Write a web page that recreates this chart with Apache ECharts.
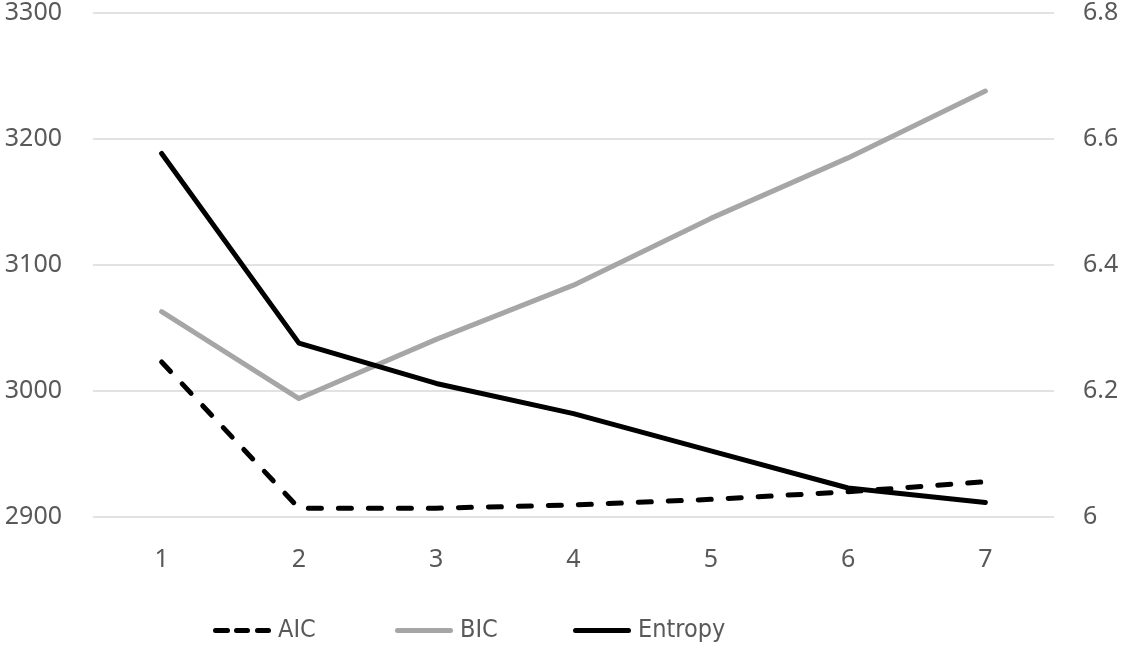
<!DOCTYPE html>
<html><head><meta charset="utf-8">
<script src="https://cdn.jsdelivr.net/npm/echarts@6/dist/echarts.min.js"></script>
<style>html,body{margin:0;padding:0;background:#fff}#c{width:1122px;height:646px}</style>
</head><body><div id="c"></div>
<script>
const categories = ['1','2','3','4','5','6','7'];
const aic = [3023, 2907, 2907, 2909.5, 2914, 2920, 2928];
const bic = [3063, 2994, 3041, 3084, 3137, 3185, 3238];
const entropy = [6.577, 6.276, 6.212, 6.164, 6.105, 6.046, 6.023];
const leftTicks = [2900, 3300, 100];
const rightTicks = [6, 6.8, 0.2];
const seriesNames = ['AIC', 'BIC', 'Entropy'];

const font = '"Noto Sans", sans-serif';
const narrow = '"Liberation Sans Narrow", "DejaVu Sans Condensed", "Roboto Condensed", Roboto, sans-serif';
function seg(a, b) {
  return 'M' + (a + 2.5) + ' 0 H' + (b - 2.5) + ' A2.5 2.5 0 0 1 ' + (b - 2.5) + ' 5 H' + (a + 2.5) + ' A2.5 2.5 0 0 1 ' + (a + 2.5) + ' 0 Z ';
}
const dashIcon = 'path://' + seg(0, 17) + seg(21, 37) + seg(42, 58);
const solidIcon = 'path://' + seg(0, 58);
const legendLefts = [213, 395, 573];
const legendIcons = [dashIcon, solidIcon, solidIcon];

const chart = echarts.init(document.getElementById('c'), null, {renderer:'canvas'});
chart.setOption({
  animation: false,
  textStyle: {fontFamily: font},
  grid: {left: 93, right: 68, top: 13, bottom: 129, containLabel: false},
  legend: seriesNames.map((n, i) => ({
    top: 618, left: legendLefts[i], padding: 0, itemWidth: 58, itemHeight: 5,
    textStyle: {fontSize: 25, color: '#595959', fontFamily: narrow, padding: [0, 0, 0, 2]},
    data: [{name: n, icon: legendIcons[i]}]
  })),
  xAxis: {
    type: 'category', data: categories, boundaryGap: true,
    axisLine: {show: false}, axisTick: {show: false},
    axisLabel: {fontSize: 25, color: '#595959', margin: 30}
  },
  yAxis: [
    {type: 'value', min: leftTicks[0], max: leftTicks[1], interval: leftTicks[2],
     axisLine: {show:false}, axisTick:{show:false},
     axisLabel: {fontSize: 25, color: '#595959', margin: 31, formatter: v => String(v)},
     splitLine: {lineStyle: {color: '#d9d9d9', width: 1.5}}},
    {type: 'value', min: rightTicks[0], max: rightTicks[1], interval: rightTicks[2],
     axisLine: {show:false}, axisTick:{show:false},
     axisLabel: {fontSize: 25, color: '#595959', margin: 29, formatter: v => String(+v.toFixed(1))},
     splitLine: {show: false}}
  ],
  series: [
    {name: seriesNames[0], type: 'line', data: aic, yAxisIndex: 0, symbol: 'none',
     lineStyle: {color: '#000', width: 5, type: [13, 17], cap: 'round', join: 'round'},
     itemStyle: {color: '#000'}},
    {name: seriesNames[1], type: 'line', data: bic, yAxisIndex: 0, symbol: 'none',
     lineStyle: {color: '#a6a6a6', width: 5, cap: 'round', join: 'round'},
     itemStyle: {color: '#a6a6a6'}},
    {name: seriesNames[2], type: 'line', data: entropy, yAxisIndex: 1, symbol: 'none',
     lineStyle: {color: '#000', width: 5, cap: 'round', join: 'round'},
     itemStyle: {color: '#000'}}
  ]
});
</script></body></html>
